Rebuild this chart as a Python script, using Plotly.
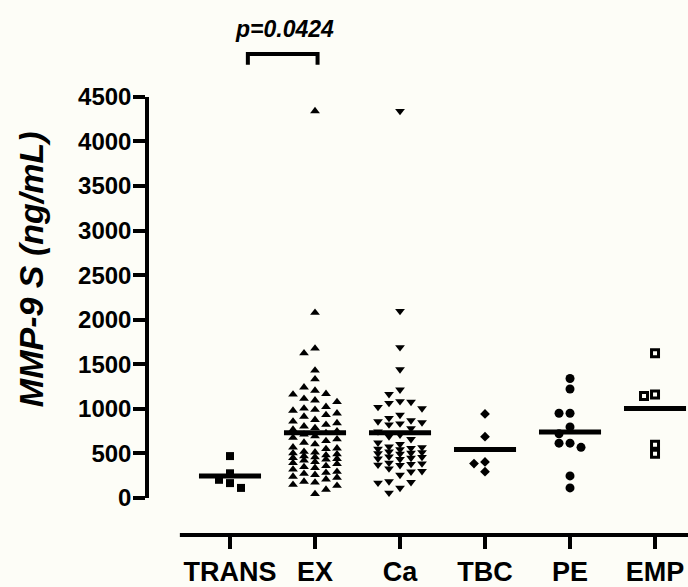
import math
import plotly.graph_objects as go

# ---------------- data ----------------
categories = ["TRANS", "EX", "Ca", "TBC", "PE", "EMP"]

trans_vals = [470, 277, 204, 167, 113]
ex_vals = [4340, 2079, 1678, 1624, 1431, 1332, 1241, 1205, 1168, 1161,
           1114, 1096, 1077, 1023, 1005, 990, 980, 950, 932, 914,
           877, 859, 841, 822, 804, 786, 768, 750, 730, 713, 695,
           677, 659, 640, 622, 604, 568, 557, 550, 520, 513, 502, 491,
           480, 470, 458, 451, 440, 433, 422, 404, 393, 382, 360, 349,
           338, 320, 295, 284, 273, 260, 240, 229, 210, 185, 175, 149,
           138, 94, 45]
ca_vals = [4340, 2097, 1690, 1442, 1215, 1165, 1085, 1078, 1065, 1020,
           1005, 932, 896, 870, 859, 848, 835, 823, 780, 745, 710, 690,
           659, 620, 604, 575, 568, 560, 550, 545, 520, 513, 505, 500,
           495, 465, 459, 450, 441, 435, 395, 386, 380, 372, 368, 330,
           300, 295, 259, 185, 178, 170, 113, 58]
tbc_vals = [943, 688, 404, 386, 295]
pe_vals = [1340, 1223, 950, 950, 797, 720, 615, 615, 568, 248, 113]
emp_vals = [1624, 1161, 1143, 597, 495]

groups = [trans_vals, ex_vals, ca_vals, tbc_vals, pe_vals, emp_vals]
y_tick_vals = [0, 500, 1000, 1500, 2000, 2500, 3000, 3500, 4000, 4500]
y_tick_text = ["0", "500", "1000", "1500", "2000", "2500", "3000", "3500", "4000", "4500"]
p_label = "p=0.0424"
y_title = "MMP-9 S (ng/mL)"

# ---------------- layout geometry ----------------
W, H = 688, 587
ML, MR, MT, MB = 149, 0, 10, 42
plot_w = W - ML - MR
plot_h = H - MT - MB
X_RANGE = [-0.953, 5.388]
Y_RANGE = [0, 4500]
Y_DOMAIN = [(545 - 507) / plot_h, (545 - 95) / plot_h]

px_per_x = plot_w / (X_RANGE[1] - X_RANGE[0])
px_per_y = plot_h * (Y_DOMAIN[1] - Y_DOMAIN[0]) / (Y_RANGE[1] - Y_RANGE[0])
COL_PX = 11.0


def swarm(values, max_k=2, min_d=9.0):
    """Simple beeswarm: offsets in column steps."""
    cands = [0]
    for k in range(1, max_k + 1):
        cands += [-k, k]
    placed = []
    offs = [0] * len(values)
    order = sorted(range(len(values)), key=lambda i: -values[i])
    for i in order:
        y = values[i] * px_per_y
        chosen, best_k, best_d = None, 0, -1.0
        for k in cands:
            d = min((math.hypot((k - k2) * COL_PX, y - y2) for k2, y2 in placed), default=1e9)
            if d >= min_d:
                chosen = k
                break
            if d > best_d:
                best_d, best_k = d, k
        if chosen is None:
            chosen = best_k
        placed.append((chosen, y))
        offs[i] = chosen
    return offs


symbols = ["square", "triangle-up", "triangle-down", "diamond", "circle", "square-open"]
sizes = [8, 8.5, 8.5, 7.5, 9, 7]

fig = go.Figure()
step = COL_PX / px_per_x
for gi, vals in enumerate(groups):
    offs = swarm(vals)
    xs = [gi + o * step for o in offs]
    open_m = symbols[gi].endswith("open")
    fig.add_trace(go.Scatter(
        x=xs, y=vals, mode="markers", cliponaxis=False,
        marker=dict(symbol=symbols[gi], size=sizes[gi], color="black",
                    line=dict(width=3 if open_m else 0, color="black")),
        hoverinfo="skip"))
    m = sum(vals) / len(vals)
    fig.add_trace(go.Scatter(
        x=[gi - 0.365, gi + 0.365], y=[m, m], mode="lines",
        line=dict(color="black", width=5), hoverinfo="skip"))

# detached x axis line
fig.add_shape(type="line", xref="x", yref="paper", x0=-0.59, x1=X_RANGE[1],
              y0=0, y1=0, line=dict(color="black", width=4))


def ypaper(px_from_top):
    return (H - MB - px_from_top) / plot_h


# significance bracket (TRANS vs EX)
bx0, bx1 = 0.21, 1.03
fig.add_shape(type="path", xref="x", yref="paper",
              path=f"M {bx0},{ypaper(62)} L {bx0},{ypaper(51)} L {bx1},{ypaper(51)} L {bx1},{ypaper(62)}",
              line=dict(color="black", width=4))
fig.add_annotation(text=p_label, xref="x", yref="paper", x=0.645, y=ypaper(25),
                   showarrow=False, xanchor="center", yanchor="middle",
                   font=dict(family="Liberation Sans, Arial", size=23, color="black",
                             weight="bold", style="italic"))
fig.add_annotation(text=y_title, xref="paper", yref="paper",
                   x=(31 - ML) / plot_w, y=ypaper(272), textangle=-90,
                   showarrow=False, xanchor="center", yanchor="middle",
                   font=dict(family="Liberation Sans, Arial", size=34, color="black",
                             weight="bold", style="italic"))

fig.update_layout(
    width=W, height=H, margin=dict(l=ML, r=MR, t=MT, b=MB, pad=0),
    paper_bgcolor="#fdfdf7", plot_bgcolor="#fdfdf7", showlegend=False,
    xaxis=dict(range=X_RANGE, anchor="free", position=0, showline=False,
               showgrid=False, zeroline=False, ticks="outside", ticklen=13,
               tickwidth=3.5, tickcolor="black",
               tickvals=list(range(len(categories))), ticktext=categories,
               tickfont=dict(family="Liberation Sans, Arial", size=27, color="black", weight="bold")),
    yaxis=dict(range=Y_RANGE, domain=Y_DOMAIN, showline=True, linewidth=3.5,
               linecolor="black", showgrid=False, zeroline=False,
               ticks="outside", ticklen=12, tickwidth=3.5, tickcolor="black",
               ticklabelstandoff=-3,
               tickvals=y_tick_vals, ticktext=y_tick_text,
               tickfont=dict(family="Liberation Sans, Arial", size=24, color="black", weight="bold")),
)

fig.write_html("out.html", config={"displayModeBar": False},
               post_script="document.body.style.margin='0';document.body.style.overflow='hidden';")
